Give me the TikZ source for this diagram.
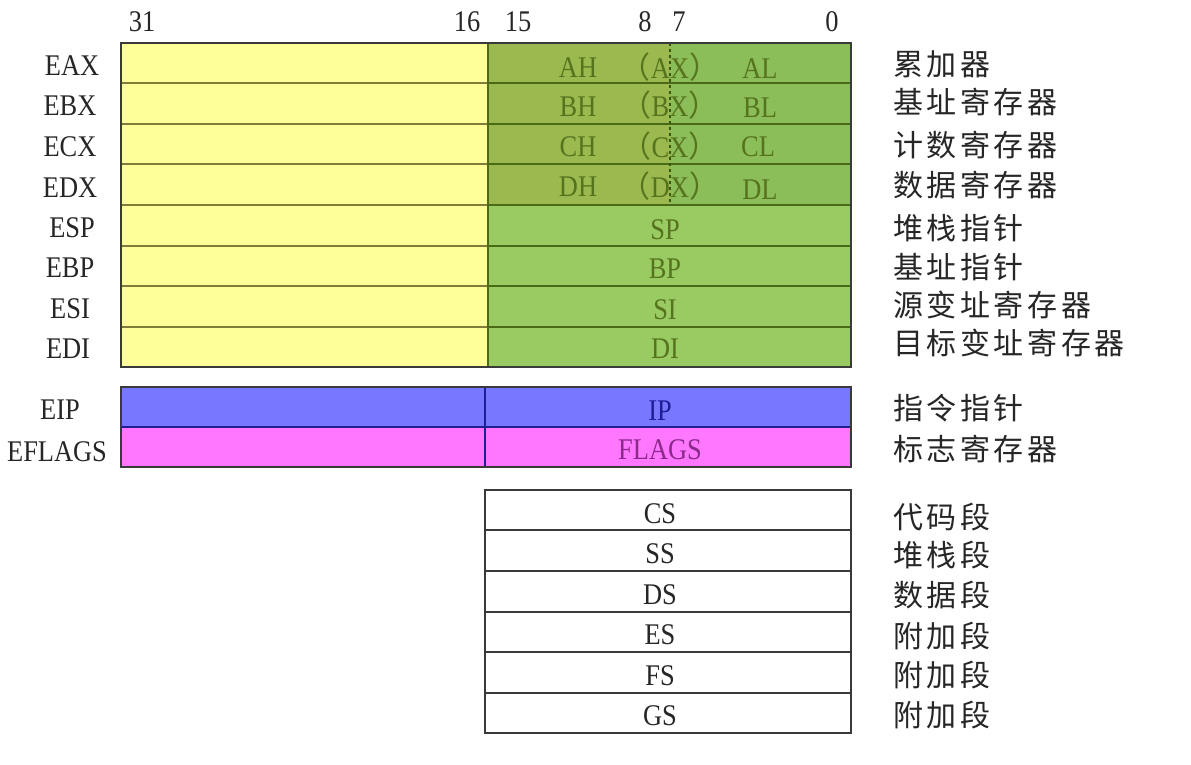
\documentclass[tikz,border=0pt]{standalone}
\usepackage{fontspec}
\setmainfont{Liberation Serif}[FakeStretch=0.88]
\newfontfamily\cjk{Noto Sans CJK SC}[LetterSpace=12]
\definecolor{yel}{HTML}{FFFF99}
\definecolor{olivefill}{HTML}{9BB94E}
\definecolor{darkgreenfill}{HTML}{8BBD58}
\definecolor{lightgreenfill}{HTML}{9ACB62}
\definecolor{gline}{HTML}{4A6A18}
\definecolor{yline}{HTML}{7E7E3A}
\definecolor{gtext}{HTML}{56731E}
\definecolor{blufill}{HTML}{7777FF}
\definecolor{magfill}{HTML}{FF77FF}
\definecolor{iptext}{HTML}{1E1E96}
\definecolor{flagtext}{HTML}{8A2A8A}
\definecolor{bordercol}{HTML}{3A3A3A}
\begin{document}
\begin{tikzpicture}[x=1pt,y=-1pt,
  lat/.style={font=\fontsize{30}{32}\selectfont, inner sep=0pt, text=black!85},
  ch/.style={font=\cjk\fontsize{30}{32}\selectfont, inner sep=0pt, anchor=west, text=black!85},
  gt/.style={lat, text=gtext},
  border/.style={draw=bordercol, line width=1.4pt},
  gl/.style={draw=gline, line width=1.3pt},
  yl/.style={draw=yline, line width=1.3pt},
  segrow/.style={draw=bordercol, line width=1.4pt, fill=white}
]
\useasboundingbox (0,0) rectangle (1191,764);

% bit numbers
\node[lat] (b31) at (142,22) {31};
\node[lat] (b16) at (467,22) {16};
\node[lat] (b15) at (518,22) {15};
\node[lat] (b8) at (645,22) {8};
\node[lat] (b7) at (679,22) {7};
\node[lat] (b0) at (832,22) {0};

% general registers block
\fill[yel] (121,43) rectangle (488,367);
\fill[olivefill] (488,43) rectangle (670,205);
\fill[darkgreenfill] (670,43) rectangle (851,205);
\fill[lightgreenfill] (488,205) rectangle (851,367);
\foreach \yy in {83,124,164,205,246,286,327}{
  \draw[yl] (121,\yy) -- (488,\yy);
  \draw[gl] (488,\yy) -- (851,\yy);
}
\draw[gl] (488,43) -- (488,367);
\draw[gline!80!black, dashed, line width=1.2pt] (670,43) -- (670,205);
\draw[border] (121,43) rectangle (851,367);

% left names
\node[lat] (eax) at (72,66) {EAX};
\node[lat] (ebx) at (70,106) {EBX};
\node[lat] (ecx) at (70,147) {ECX};
\node[lat] (edx) at (70,188) {EDX};
\node[lat] (esp) at (72,228) {ESP};
\node[lat] (ebp) at (70,268) {EBP};
\node[lat] (esi) at (70,309) {ESI};
\node[lat] (edi) at (68,349) {EDI};
\node[lat] (eip) at (60,410) {EIP};
\node[lat] (eflags) at (57,452) {EFLAGS};

% 16/8 bit names
\node[gt] (ah) at (578,68) {AH};
\node[gt] (ax) at (670,67) {{\cjk （}AX{\cjk ）}};
\node[gt] (al) at (760,69) {AL};
\node[gt] (bh) at (578,107) {BH};
\node[gt] (bx) at (670,105) {{\cjk （}BX{\cjk ）}};
\node[gt] (bl) at (760,108) {BL};
\node[gt] (chh) at (578,147) {CH};
\node[gt] (cx) at (670,146) {{\cjk （}CX{\cjk ）}};
\node[gt] (cl) at (758,147) {CL};
\node[gt] (dh) at (578,187) {DH};
\node[gt] (dx) at (670,186) {{\cjk （}DX{\cjk ）}};
\node[gt] (dl) at (760,190) {DL};
\node[gt] (sp) at (665,230) {SP};
\node[gt] (bp) at (665,269) {BP};
\node[gt] (si) at (665,310) {SI};
\node[gt] (di) at (665,349) {DI};

% EIP / EFLAGS
\fill[blufill] (121,387) rectangle (851,427);
\fill[magfill] (121,427) rectangle (851,467);
\draw[draw=iptext, line width=1.3pt] (121,427) -- (851,427);
\draw[draw=iptext, line width=1.3pt] (485,387) -- (485,467);
\draw[border] (121,387) rectangle (851,467);
\node[lat, text=iptext] (ip) at (660,411) {IP};
\node[lat, text=flagtext] (flags) at (660,450) {FLAGS};

% segment registers
\foreach \ya/\yb in {490/530,530/571,571/612,612/652,652/693,693/733}{
  \draw[segrow] (485,\ya) rectangle (851,\yb);
}
\node[lat] (cs) at (660,514) {CS};
\node[lat] (ss) at (660,554) {SS};
\node[lat] (ds) at (660,595) {DS};
\node[lat] (es) at (660,635) {ES};
\node[lat] (fs) at (660,676) {FS};
\node[lat] (gs) at (660,716) {GS};

% Chinese descriptions
\node[ch] (d1) at (893,64) {累加器};
\node[ch] (d2) at (893,102) {基址寄存器};
\node[ch] (d3) at (893,145) {计数寄存器};
\node[ch] (d4) at (893,185) {数据寄存器};
\node[ch] (d5) at (893,228) {堆栈指针};
\node[ch] (d6) at (893,267) {基址指针};
\node[ch] (d7) at (893,305) {源变址寄存器};
\node[ch] (d8) at (893,343) {目标变址寄存器};
\node[ch] (d9) at (893,408) {指令指针};
\node[ch] (d10) at (893,449) {标志寄存器};
\node[ch] (d11) at (893,517) {代码段};
\node[ch] (d12) at (893,555) {堆栈段};
\node[ch] (d13) at (893,595) {数据段};
\node[ch] (d14) at (893,636) {附加段};
\node[ch] (d15) at (893,675) {附加段};
\node[ch] (d16) at (893,715) {附加段};
\end{tikzpicture}
\end{document}
